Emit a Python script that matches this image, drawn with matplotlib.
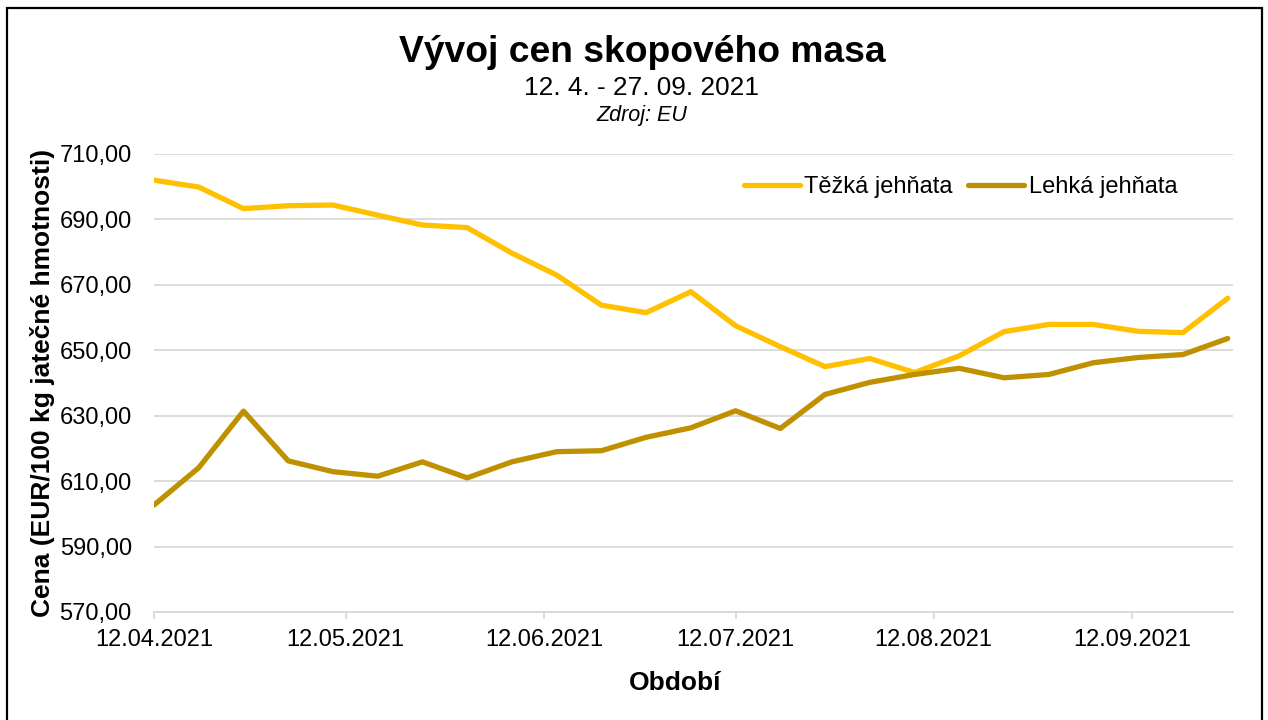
import matplotlib
matplotlib.use("Agg")
import matplotlib.pyplot as plt
import matplotlib.dates as mdates
from matplotlib.ticker import FuncFormatter
from matplotlib.patches import Rectangle
import pandas as pd

plt.rcParams['font.family'] = ['Liberation Sans', 'DejaVu Sans']

dates = pd.date_range("2021-04-12", "2021-09-27", freq="7D")
tezka = [702.0, 699.9, 693.3, 694.2, 694.4, 691.3, 688.3, 687.5, 679.7, 673.0,
         663.8, 661.5, 667.9, 657.5, 651.1, 645.0, 647.5, 643.2, 648.3, 655.7,
         657.9, 657.9, 655.8, 655.4, 665.9]
lehka = [602.7, 614.1, 631.4, 616.2, 612.9, 611.5, 615.9, 611.0, 615.9, 619.0,
         619.3, 623.4, 626.3, 631.5, 626.1, 636.5, 640.2, 642.6, 644.5, 641.6,
         642.6, 646.2, 647.8, 648.7, 653.6]
y_ticks = [570, 590, 610, 630, 650, 670, 690, 710]
tick_dates = pd.to_datetime(["2021-04-12", "2021-05-12", "2021-06-12",
                             "2021-07-12", "2021-08-12", "2021-09-12"])
series_names = ["Těžká jehňata", "Lehká jehňata"]
colors = ["#FFC000", "#BF9000"]

fig = plt.figure(figsize=(12.68, 7.2), dpi=100)
ax = fig.add_axes([154/1268, 1-612/720, (1233-154)/1268, (612-154)/720])

ax.plot(dates, tezka, color=colors[0], lw=3.8, solid_capstyle='round',
        solid_joinstyle='round', label=series_names[0])
ax.plot(dates, lehka, color=colors[1], lw=3.8, solid_capstyle='round',
        solid_joinstyle='round', label=series_names[1])

ax.set_ylim(y_ticks[0], y_ticks[-1])
ax.set_yticks(y_ticks)
ax.yaxis.set_major_formatter(FuncFormatter(lambda v, p: f"{v:.2f}".replace(".", ",")))
ax.set_xlim(dates[0], dates[-1] + pd.Timedelta(hours=20))
ax.set_xticks(tick_dates)
ax.xaxis.set_major_formatter(mdates.DateFormatter("%d.%m.%Y"))

ax.grid(axis='y', color='#D9D9D9', lw=1.3)
ax.set_axisbelow(True)
for s in ['top', 'right', 'left']:
    ax.spines[s].set_visible(False)
ax.spines['bottom'].set_color('#D9D9D9')
ax.spines['bottom'].set_linewidth(1.3)
ax.tick_params(axis='y', length=0, pad=16, labelsize=17)
ax.tick_params(axis='x', length=5, width=1.3, color='#D9D9D9', pad=7, labelsize=17)

ax.set_ylabel("Cena (EUR/100 kg jatečné hmotnosti)", fontsize=19, fontweight='bold')
ax.yaxis.set_label_coords((43-154)/1079, 0.5)
ax.yaxis.label.set_verticalalignment('center')
ax.set_xlabel("Období", fontsize=19, fontweight='bold')
ax.xaxis.set_label_coords((675-154)/1079, -(683-612)/458)
ax.xaxis.label.set_verticalalignment('center')

leg = ax.legend(loc='upper right', bbox_to_anchor=(0.968, 0.998), ncol=2, frameon=False,
                fontsize=17, handlelength=2.37, handletextpad=0.2, columnspacing=0.64)

cx = 642/1268
fig.text(cx, 1-52/720, "Vývoj cen skopového masa", ha='center', va='center',
         fontsize=26.8, fontweight='bold')
fig.text(cx, 1-88/720, "12. 4. - 27. 09. 2021", ha='center', va='center', fontsize=18.9)
fig.text(cx, 1-116/720, "Zdroj: EU", ha='center', va='center', fontsize=15.5, style='italic')

fig.patches.append(Rectangle((7/1268, -0.05), (1262-7)/1268, 1.05-8/720,
                             transform=fig.transFigure, fill=False, ec='black', lw=1.6))

fig.savefig("out.png", dpi=100)
